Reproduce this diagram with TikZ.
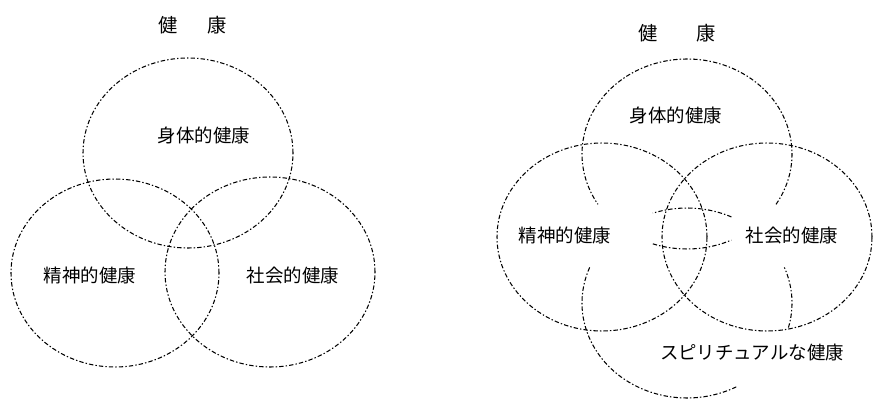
\documentclass[tikz,border=0pt]{standalone}
\usepackage{fontspec}
\newfontfamily\jpfont{Noto Sans CJK JP}
\begin{document}
\begin{tikzpicture}[
  x=0.02cm, y=0.02cm,
  font=\jpfont\fontsize{10.5}{12}\selectfont,
  ring/.style={draw=black, line width=0.6pt,
               dash pattern=on 2.5pt off 1.2pt on 0.8pt off 1.2pt},
  lbl/.style={inner sep=1pt, text=black},
  title/.style={inner sep=1pt, text=black, font=\jpfont\fontsize{11}{13}\selectfont}
]
  \useasboundingbox (0,0) rectangle (875,400);

  % left: three rings
  \draw[ring] (188,247) ellipse[x radius=105, y radius=95];
  \draw[ring] (115,127) ellipse[x radius=104, y radius=94];
  \draw[ring] (270,128) ellipse[x radius=105, y radius=95];

  \node[title] (hl) at (193,375) {健\hspace{17pt}康};
  \node[lbl] (body) at (204,265) {身体的健康};
  \node[lbl] (mind) at (90,125) {精神的健康};
  \node[lbl] (soc) at (293,125) {社会的健康};

  % right: four rings, partly hidden
  \coordinate (ct) at (687,246);
  \coordinate (cb) at (687,97);
  \draw[ring] (602,163) ellipse[x radius=105, y radius=94];
  \draw[ring] (767,163) ellipse[x radius=105, y radius=94];
  \draw[ring] (ct) ++(-32:105 and 95) arc[start angle=-32, end angle=212, x radius=105, y radius=95];
  \draw[ring] (ct) ++(251:105 and 95) arc[start angle=251, end angle=295, x radius=105, y radius=95];
  \draw[ring] (cb) ++(65:105 and 95) arc[start angle=65, end angle=109, x radius=105, y radius=95];
  \draw[ring] (cb) ++(158:105 and 95) arc[start angle=158, end angle=298, x radius=105, y radius=95];
  \draw[ring] (cb) ++(-15:105 and 95) arc[start angle=-15, end angle=22, x radius=105, y radius=95];

  \node[title] (hr) at (677,367) {健\hspace{22pt}康};
  \node[lbl] (body2) at (676,285) {身体的健康};
  \node[lbl] (mind2) at (565,165) {精神的健康};
  \node[lbl] (soc2) at (792,165) {社会的健康};
  \node[lbl] (spir) at (752,47) {スピリチュアルな健康};
\end{tikzpicture}
\end{document}
